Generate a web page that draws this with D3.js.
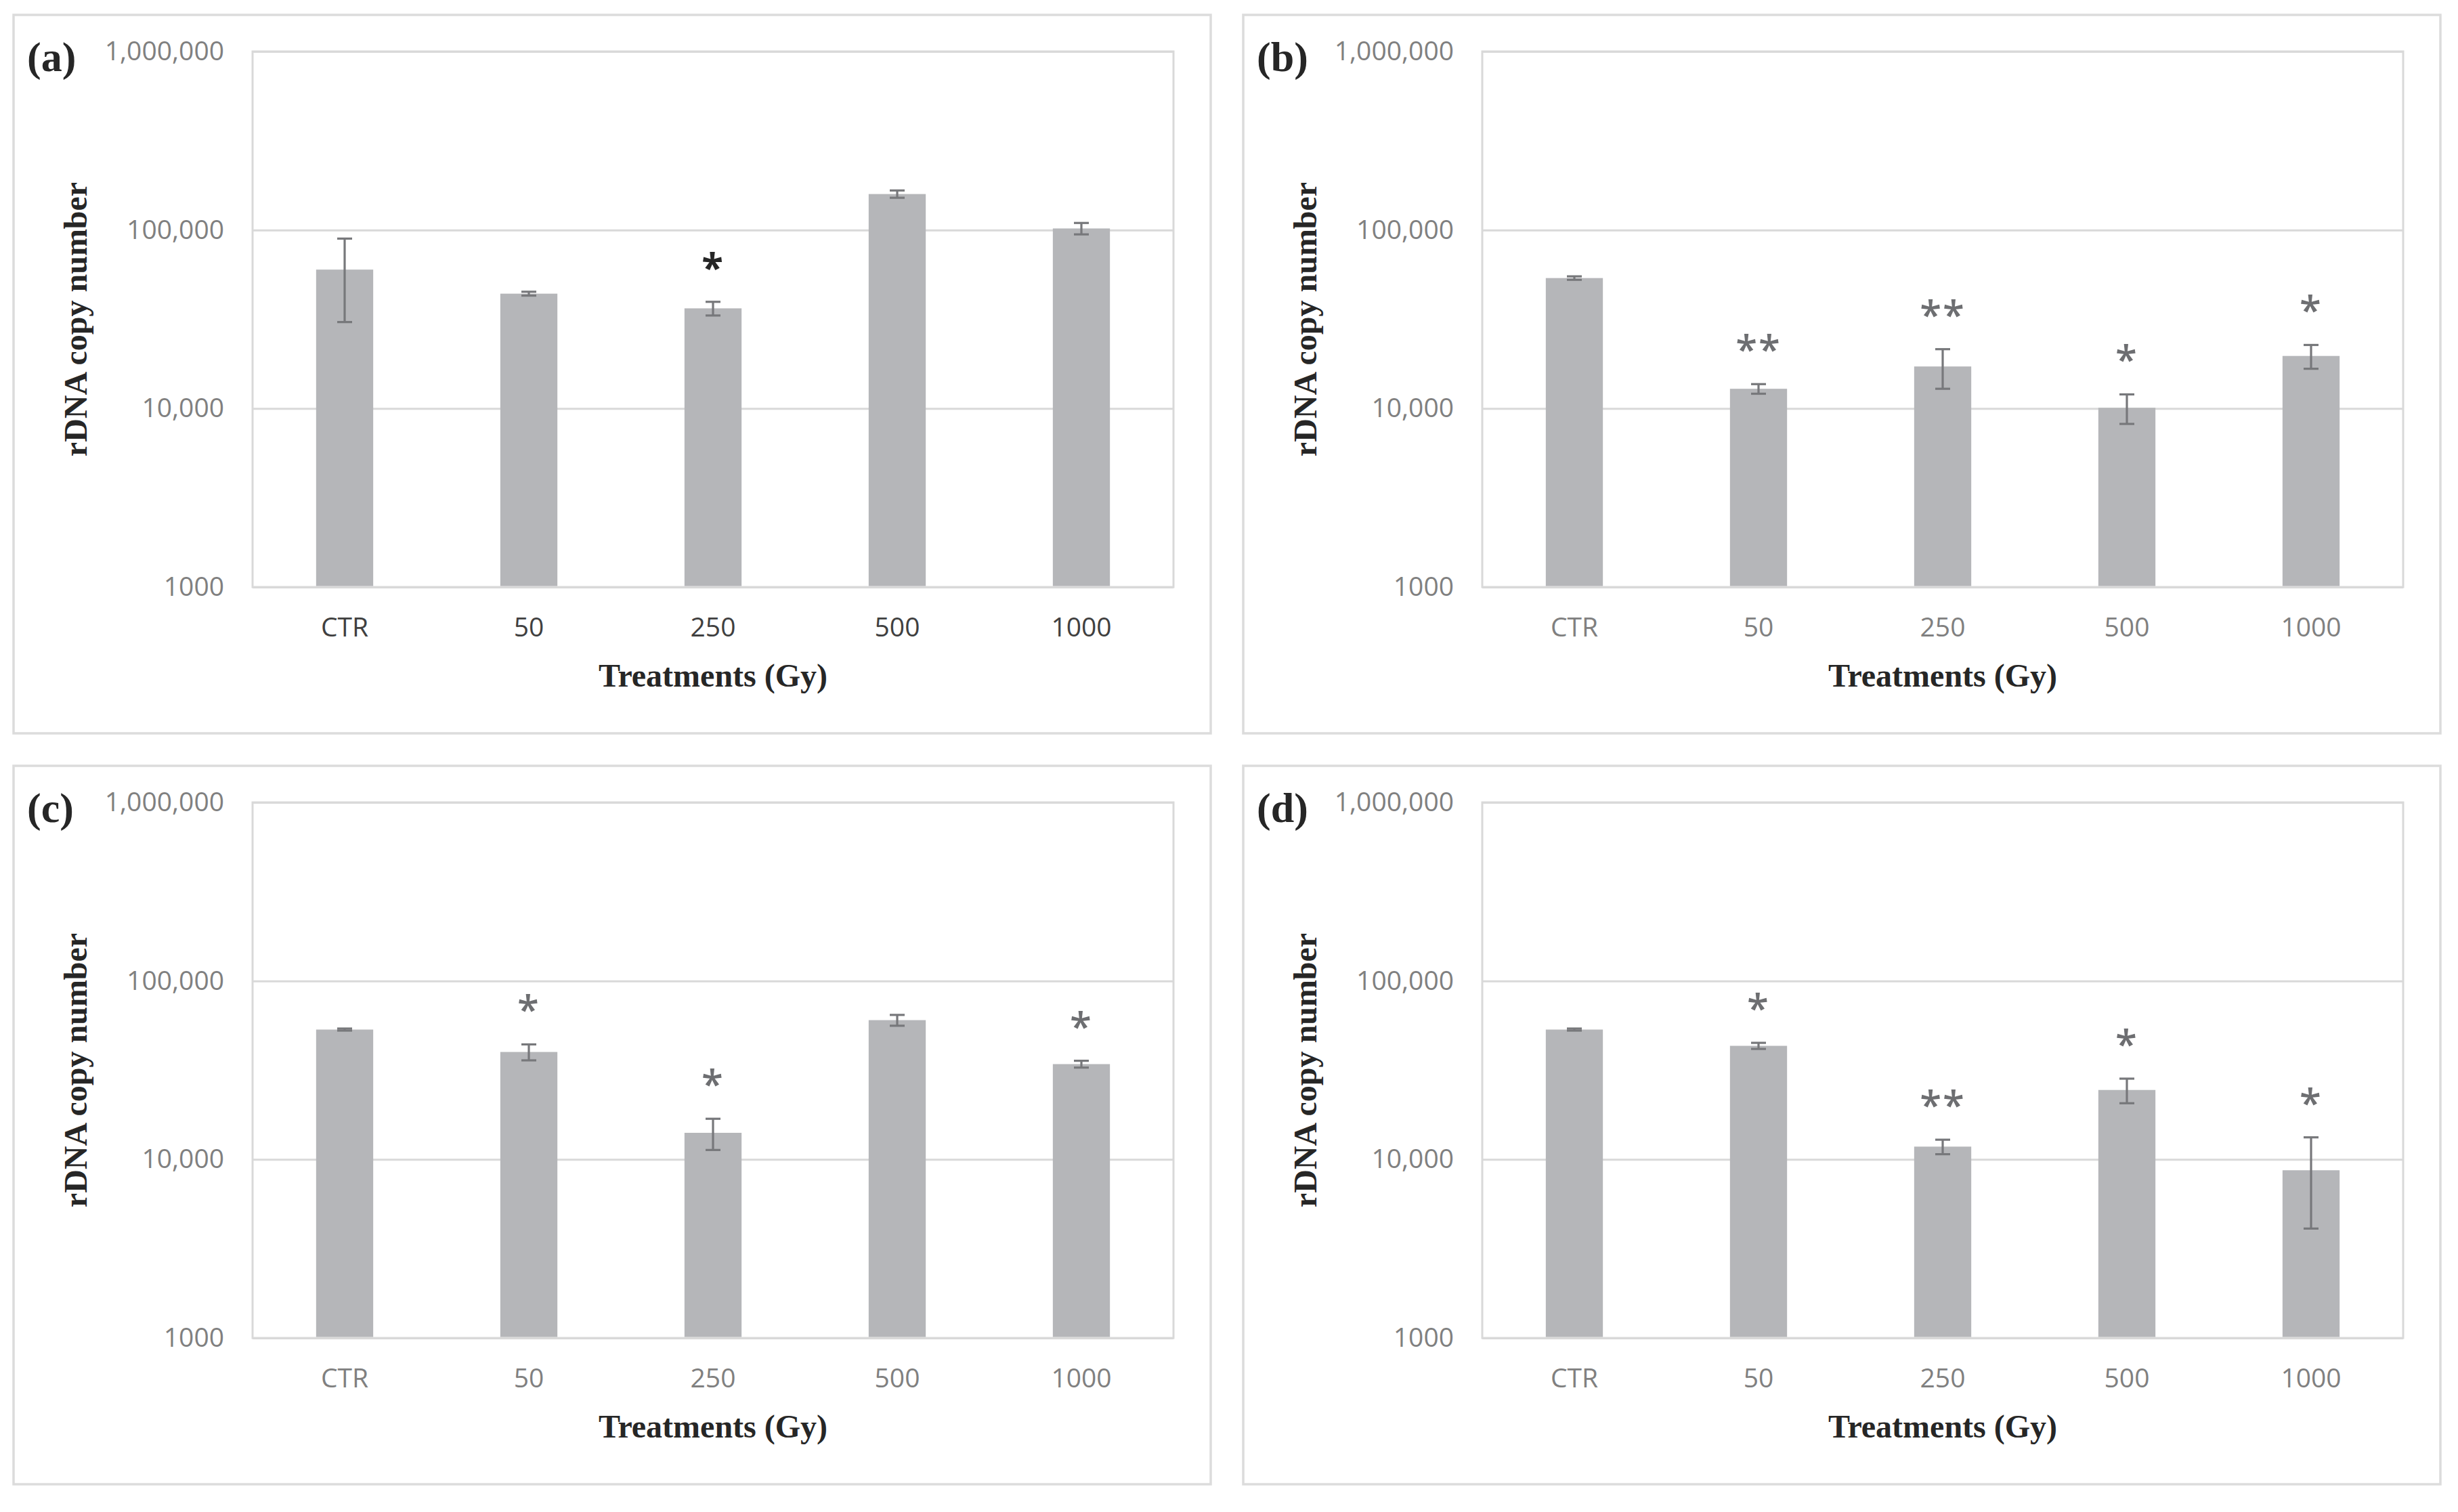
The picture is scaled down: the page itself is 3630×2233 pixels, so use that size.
<!DOCTYPE html>
<html>
<head>
<meta charset="utf-8">
<script src="https://cdn.jsdelivr.net/npm/d3@7"></script>
<style>
  html, body { margin: 0; padding: 0; background: #ffffff; }
  svg { display: block; }
</style>
</head>
<body>
<script>
// ---------------- data ----------------
const categories = ["CTR", "50", "250", "500", "1000"];
const panelLabels = ["(a)", "(b)", "(c)", "(d)"];
const yTickValues = [1000, 10000, 100000, 1000000];
const yTickLabels = ["1000", "10,000", "100,000", "1,000,000"];
const yAxisTitle = "rDNA copy number";
const xAxisTitle = "Treatments (Gy)";

const meansA = [60000, 44000, 36400, 159000, 102000];
const errA   = [29500, 1100, 3200, 7500, 7500];
const sigA   = ["", "", "*", "", ""];

const meansB = [53800, 12900, 17200, 10100, 19700];
const errB   = [1200, 800, 4300, 1900, 3000];
const sigB   = ["", "**", "**", "*", "*"];

const meansC = [53400, 40000, 14100, 60300, 34200];
const errC   = [700, 4100, 2800, 4200, 1500];
const sigC   = ["", "*", "*", "", "*"];

const meansD = [53400, 43300, 11800, 24500, 8700];
const errD   = [700, 1700, 1100, 3850, 4600];
const sigD   = ["", "*", "**", "*", "*"];

const panels = [
  { label: panelLabels[0], means: meansA, errs: errA, sig: sigA, col: 0, row: 0, dark: true },
  { label: panelLabels[1], means: meansB, errs: errB, sig: sigB, col: 1, row: 0, dark: false },
  { label: panelLabels[2], means: meansC, errs: errC, sig: sigC, col: 0, row: 1, dark: false },
  { label: panelLabels[3], means: meansD, errs: errD, sig: sigD, col: 1, row: 1, dark: false }
];

// ---------------- layout ----------------
const W = 3630, H = 2233;
const DX = 1816, DY = 1109;
const frame = { x0: 20, y0: 22, x1: 1788, y1: 1083 };
const plot = { x0: 373, x1: 1733, y0: 76, y1: 867 };

const serif = "'Liberation Serif', 'Times New Roman', serif";
const sans = "'Open Sans', 'Noto Sans', sans-serif";

const svg = d3.select("body").append("svg")
  .attr("width", W).attr("height", H)
  .attr("viewBox", `0 0 ${W} ${H}`);

svg.append("rect").attr("width", W).attr("height", H).attr("fill", "#ffffff");

const x = d3.scaleBand().domain(categories)
  .range([plot.x0, plot.x1]).paddingInner(0.69).paddingOuter(0.345);
const y = d3.scaleLog().domain([1000, 1000000]).range([plot.y1, plot.y0]);

panels.forEach(p => {
  const g = svg.append("g")
    .attr("transform", `translate(${p.col * DX},${p.row * DY})`);

  // outer frame
  g.append("rect")
    .attr("x", frame.x0).attr("y", frame.y0)
    .attr("width", frame.x1 - frame.x0).attr("height", frame.y1 - frame.y0)
    .attr("fill", "none").attr("stroke", "#dcdcdc").attr("stroke-width", 3.5);

  // plot area border
  g.append("rect")
    .attr("x", plot.x0).attr("y", plot.y0)
    .attr("width", plot.x1 - plot.x0).attr("height", plot.y1 - plot.y0)
    .attr("fill", "none").attr("stroke", "#d9d9d9").attr("stroke-width", 3);

  // gridlines
  const grid = g.append("g")
    .attr("transform", `translate(${plot.x0},0)`)
    .call(d3.axisLeft(y).tickValues(yTickValues).tickSize(-(plot.x1 - plot.x0)).tickFormat(""));
  grid.select(".domain").remove();
  grid.selectAll("line").attr("stroke", "#d9d9d9").attr("stroke-width", 3);

  // y tick labels
  const ya = g.append("g")
    .attr("transform", `translate(${plot.x0},0)`)
    .call(d3.axisLeft(y).tickValues(yTickValues).tickSize(0).tickPadding(42)
      .tickFormat((d, i) => yTickLabels[i]));
  ya.select(".domain").remove();
  ya.selectAll("text")
    .attr("font-family", sans).attr("font-size", 39).attr("fill", "#808080");

  // bars
  g.append("g").selectAll("rect").data(categories).join("rect")
    .attr("x", d => x(d))
    .attr("width", x.bandwidth())
    .attr("y", (d, i) => y(p.means[i]))
    .attr("height", (d, i) => y(1000) - y(p.means[i]) - 1.5)
    .attr("fill", "#b5b6b9");

  // error bars
  const eb = g.append("g").attr("stroke", "#77787b").attr("stroke-width", 3.2);
  const cap = 11;
  categories.forEach((c, i) => {
    const cx = x(c) + x.bandwidth() / 2;
    const yt = y(p.means[i] + p.errs[i]);
    const yb = y(p.means[i] - p.errs[i]);
    eb.append("line").attr("x1", cx).attr("x2", cx).attr("y1", yt).attr("y2", yb);
    eb.append("line").attr("x1", cx - cap).attr("x2", cx + cap).attr("y1", yt).attr("y2", yt);
    eb.append("line").attr("x1", cx - cap).attr("x2", cx + cap).attr("y1", yb).attr("y2", yb);
  });

  // significance marks
  g.append("g").selectAll("text").data(categories).join("text")
    .attr("x", d => x(d) + x.bandwidth() / 2)
    .attr("y", (d, i) => y(p.means[i] + p.errs[i]) - 62 + 32)
    .attr("text-anchor", "middle")
    .attr("font-family", sans)
    .attr("font-size", 58)
    .attr("font-weight", p.dark ? 700 : 600)
    .attr("letter-spacing", 2)
    .attr("fill", p.dark ? "#262626" : "#6d6e71")
    .text((d, i) => p.sig[i]);

  // x tick labels
  const xa = g.append("g")
    .attr("transform", `translate(0,${plot.y1})`)
    .call(d3.axisBottom(x).tickSize(0).tickPadding(45));
  xa.select(".domain").remove();
  xa.selectAll("text")
    .attr("font-family", sans).attr("font-size", 39)
    .attr("fill", p.dark ? "#404040" : "#808080");

  // axis titles
  g.append("text")
    .attr("x", (plot.x0 + plot.x1) / 2).attr("y", 1014)
    .attr("text-anchor", "middle")
    .attr("font-family", serif).attr("font-weight", 700).attr("font-size", 48)
    .attr("fill", "#262626")
    .text(xAxisTitle);

  g.append("text")
    .attr("transform", `translate(128,${(plot.y0 + plot.y1) / 2}) rotate(-90)`)
    .attr("text-anchor", "middle")
    .attr("font-family", serif).attr("font-weight", 700).attr("font-size", 48)
    .attr("fill", "#262626")
    .text(yAxisTitle);

  // panel label
  g.append("text")
    .attr("x", 40).attr("y", 105)
    .attr("font-family", serif).attr("font-weight", 700).attr("font-size", 62)
    .attr("fill", "#262626")
    .text(p.label);
});
</script>
</body>
</html>
